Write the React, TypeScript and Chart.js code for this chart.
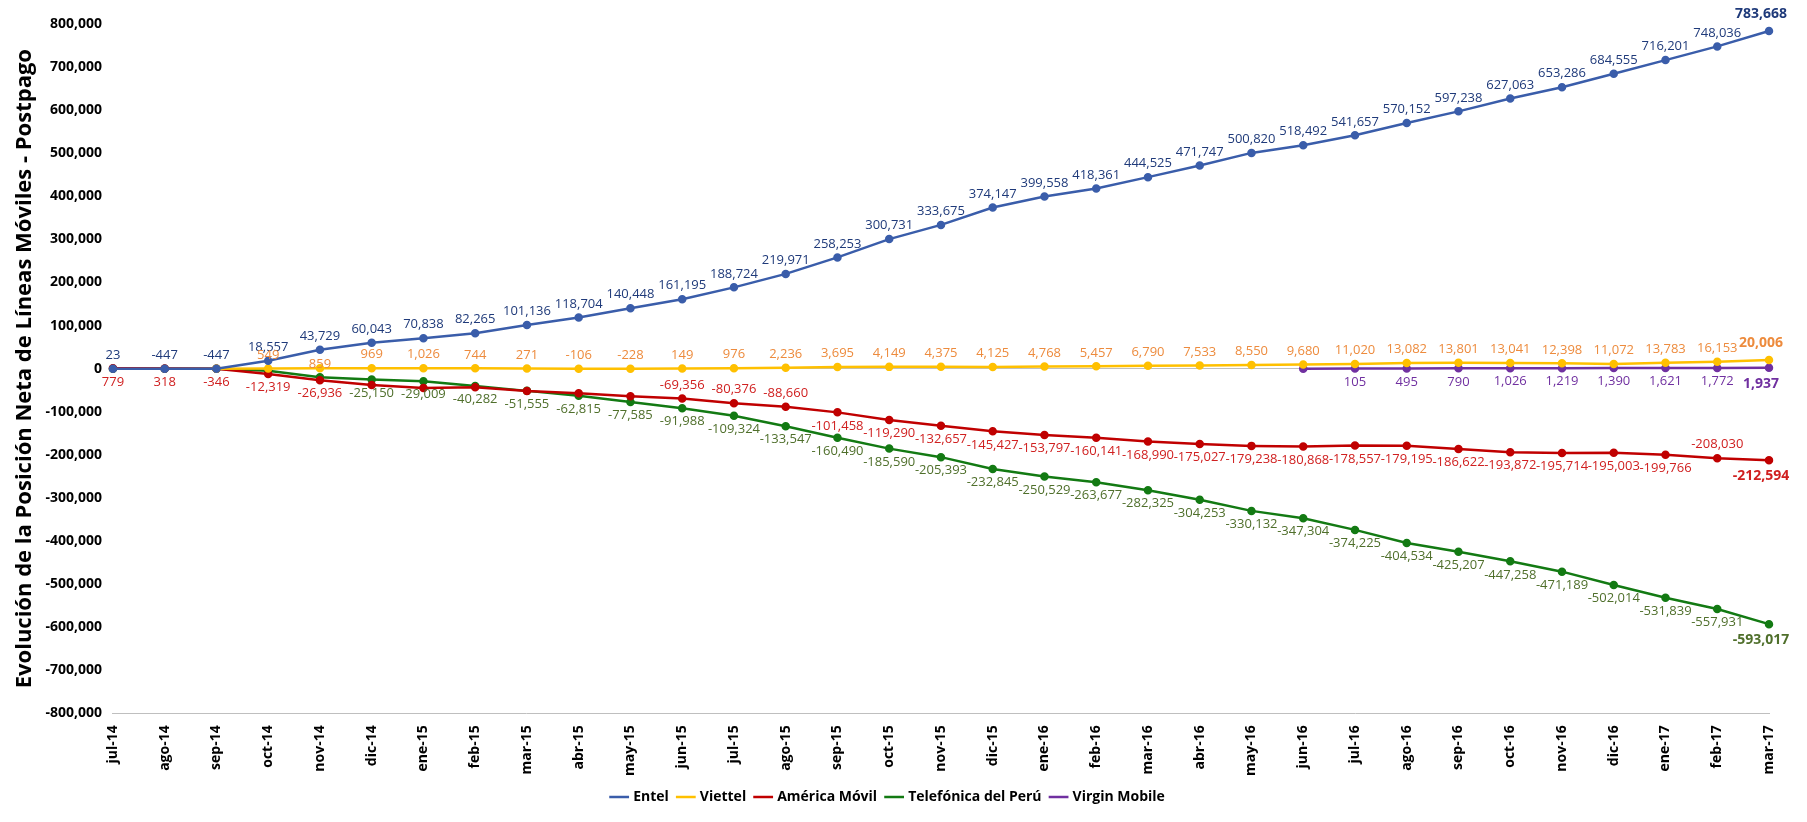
import { useEffect, useRef } from 'react';
import { Chart, registerables } from 'chart.js';

const months = ['jul-14', 'ago-14', 'sep-14', 'oct-14', 'nov-14', 'dic-14', 'ene-15', 'feb-15', 'mar-15', 'abr-15', 'may-15', 'jun-15', 'jul-15', 'ago-15', 'sep-15', 'oct-15', 'nov-15', 'dic-15', 'ene-16', 'feb-16', 'mar-16', 'abr-16', 'may-16', 'jun-16', 'jul-16', 'ago-16', 'sep-16', 'oct-16', 'nov-16', 'dic-16', 'ene-17', 'feb-17', 'mar-17'];

const entel = [23, -447, -447, 18557, 43729, 60043, 70838, 82265, 101136, 118704, 140448, 161195, 188724, 219971, 258253, 300731, 333675, 374147, 399558, 418361, 444525, 471747, 500820, 518492, 541657, 570152, 597238, 627063, 653286, 684555, 716201, 748036, 783668];
const viettel = [null, null, 0, 549, 859, 969, 1026, 744, 271, -106, -228, 149, 976, 2236, 3695, 4149, 4375, 4125, 4768, 5457, 6790, 7533, 8550, 9680, 11020, 13082, 13801, 13041, 12398, 11072, 13783, 16153, 20006];
const americaMovil = [779, 318, -346, -12319, -26936, -38000, -45000, -43000, -52000, -57000, -64000, -69356, -80376, -88660, -101458, -119290, -132657, -145427, -153797, -160141, -168990, -175027, -179238, -180868, -178557, -179195, -186622, -193872, -195714, -195003, -199766, -208030, -212594];
const telefonica = [0, 0, 0, -5000, -20000, -25150, -29009, -40282, -51555, -62815, -77585, -91988, -109324, -133547, -160490, -185590, -205393, -232845, -250529, -263677, -282325, -304253, -330132, -347304, -374225, -404534, -425207, -447258, -471189, -502014, -531839, -557931, -593017];
const virgin = [null, null, null, null, null, null, null, null, null, null, null, null, null, null, null, null, null, null, null, null, null, null, null, 0, 105, 495, 790, 1026, 1219, 1390, 1621, 1772, 1937];

const yTicks = [800000, 700000, 600000, 500000, 400000, 300000, 200000, 100000, 0, -100000, -200000, -300000, -400000, -500000, -600000, -700000, -800000];

// label colour, default position, indexes flipped to the other side, hidden indexes
const labelCfg = [
  { color: '#1f3a7a', pos: 'above', flip: [] as number[], hide: [] as number[] },
  { color: '#ed8b3d', pos: 'above', flip: [] as number[], hide: [2] },
  { color: '#d02020', pos: 'below', flip: [11, 12, 13, 31], hide: [5, 6, 7, 8, 9, 10] },
  { color: '#4f6f2b', pos: 'below', flip: [] as number[], hide: [0, 1, 2, 3, 4] },
  { color: '#7030a0', pos: 'below', flip: [] as number[], hide: [23] },
];

const FONT = '"Open Sans", sans-serif';
const fmt = (v: number) => v.toLocaleString('en-US');

const labelPlugin = {
  id: 'pointLabels',
  afterDatasetsDraw(chart: Chart) {
    const ctx = chart.ctx;
    ctx.save();
    ctx.textAlign = 'center';
    chart.data.datasets.forEach((ds, di) => {
      const cfg = labelCfg[di];
      const meta = chart.getDatasetMeta(di);
      const last = ds.data.length - 1;
      meta.data.forEach((pt, i) => {
        const v = ds.data[i] as number | null;
        if (v === null || cfg.hide.includes(i)) return;
        const isLast = i === last;
        ctx.font = isLast ? `bold 14px ${FONT}` : `13px ${FONT}`;
        ctx.fillStyle = cfg.color;
        let up = cfg.pos === 'above';
        if (cfg.flip.includes(i)) up = !up;
        ctx.textBaseline = up ? 'bottom' : 'top';
        const x = isLast ? pt.x - 8 : pt.x;
        // nov-14 Viettel label sits lower, under the Entel label
        const extra = di === 1 && i === 4 ? 10 : 0;
        const y = up ? pt.y - 7 - (isLast ? 3 : 0) + extra : pt.y + 7 + (isLast ? 2 : 0);
        ctx.fillText(fmt(v), x, y);
      });
    });
    ctx.restore();
  },
};

export default function App() {
  const ref = useRef<HTMLCanvasElement>(null);

  useEffect(() => {
    if (!ref.current) return;
    Chart.register(...registerables);
    const mk = (label: string, data: (number | null)[], color: string) => ({
      label,
      data,
      borderColor: color,
      backgroundColor: color,
      borderWidth: 2.5,
      pointRadius: 3,
      pointHoverRadius: 4,
      tension: 0,
      spanGaps: false,
    });
    const chart = new Chart(ref.current, {
      type: 'line',
      data: {
        labels: months,
        datasets: [
          mk('Entel', entel, '#3a5daa'),
          mk('Viettel', viettel, '#ffc000'),
          mk('América Móvil', americaMovil, '#c00000'),
          mk('Telefónica del Perú', telefonica, '#137a13'),
          mk('Virgin Mobile', virgin, '#7030a0'),
        ],
      },
      plugins: [labelPlugin],
      options: {
        animation: false,
        responsive: true,
        maintainAspectRatio: false,
        layout: { padding: { top: 16, right: 30, left: 0, bottom: 0 } },
        plugins: {
          legend: {
            position: 'bottom',
            labels: {
              usePointStyle: true,
              pointStyle: 'line',
              boxWidth: 30,
              color: '#000',
              font: { family: FONT, size: 14, weight: 'bold' },
              padding: 10,
            },
          },
          tooltip: { enabled: false },
        },
        scales: {
          x: {
            grid: { display: false },
            border: { color: '#bfbfbf' },
            ticks: {
              color: '#000',
              maxRotation: 90,
              minRotation: 90,
              padding: 4,
              font: { family: FONT, size: 14, weight: 'bold' },
            },
          },
          y: {
            min: -800000,
            max: 800000,
            afterBuildTicks: (axis) => {
              axis.ticks = yTicks.map((value) => ({ value }));
            },
            grid: {
              drawOnChartArea: true,
              color: (c) => (c.tick && c.tick.value === 0 ? '#bfbfbf' : 'rgba(0,0,0,0)'),
              tickColor: 'rgba(0,0,0,0)',
            },
            border: { display: false },
            title: {
              display: true,
              text: 'Evolución de la Posición Neta de Líneas Móviles - Postpago',
              color: '#000',
              font: { family: FONT, size: 22, weight: 'bold' },
            },
            ticks: {
              color: '#000',
              font: { family: FONT, size: 14, weight: 'bold' },
              callback: (v) => fmt(v as number),
            },
          },
        },
      },
    });
    return () => chart.destroy();
  }, []);

  return (
    <div style={{ position: 'relative', width: '1791px', height: '806px' }}>
      <canvas ref={ref} />
    </div>
  );
}
